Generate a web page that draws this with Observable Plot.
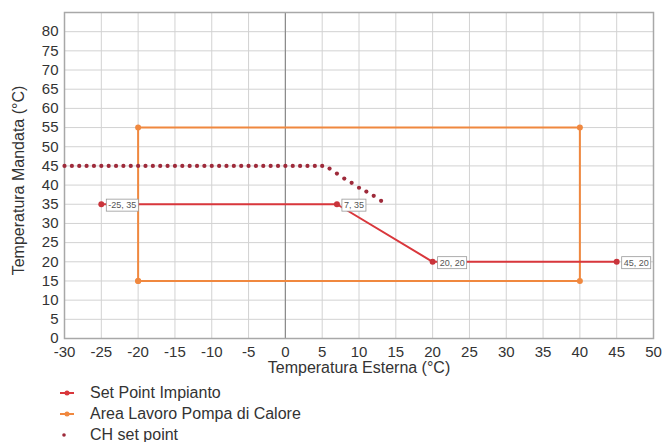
<!DOCTYPE html>
<html><head><meta charset="utf-8">
<script src="https://cdn.jsdelivr.net/npm/d3@7"></script>
<script src="https://cdn.jsdelivr.net/npm/@observablehq/plot@0.6"></script>
<style>
body{margin:0;background:#fff;font-family:"Liberation Sans",Arial,sans-serif;}
#legend{padding-top:2px;}
.row{height:21px;display:flex;align-items:center;font-size:16px;color:#333;}
.row svg{margin-left:59px;margin-right:15px;}
</style>
</head><body>
<div id="chart"></div>
<div id="legend"></div>
<script>
// ---- data ----
const xTicks = [-30,-25,-20,-15,-10,-5,0,5,10,15,20,25,30,35,40,45,50];
const yTicks = [0,5,10,15,20,25,30,35,40,45,50,55,60,65,70,75,80];
const yGrid = [5,10,15,20,25,30,35,40,45,50,55,60,65,70,75,80];

const setX = [-25, 7, 20, 45];
const setY = [35, 35, 20, 20];
const setLabels = ["-25, 35", "7, 35", "20, 20", "45, 20"];

const areaX = [-20, -20, 40, 40, -20];
const areaY = [15, 55, 55, 15, 15];

const chX = [-30,-29,-28,-27,-26,-25,-24,-23,-22,-21,-20,-19,-18,-17,-16,-15,-14,-13,-12,-11,-10,-9,-8,-7,-6,-5,-4,-3,-2,-1,0,1,2,3,4,5,6,7,8,9,10,11,12,13];
const chY = [45,45,45,45,45,45,45,45,45,45,45,45,45,45,45,45,45,45,45,45,45,45,45,45,45,45,45,45,45,45,45,45,45,45,45,45,44.3,43.0,41.7,40.6,39.3,38.3,37.2,35.9];

const seriesNames = ["Set Point Impianto", "Area Lavoro Pompa di Calore", "CH set point"];
const xLabel = "Temperatura Esterna (°C)";
const yLabel = "Temperatura Mandata (°C)";

const colSet = "#d9373c", colArea = "#f0883f", colCH = "#9e2a3a";

const setData = setX.map((x,i)=>({x, y:setY[i], label:setLabels[i]}));
const areaData = areaX.map((x,i)=>({x, y:areaY[i]}));
const chData = chX.map((x,i)=>({x, y:chY[i]}));

const fmt = d => String(d);

const chart = Plot.plot({
  width: 663, height: 380,
  marginTop: 12, marginBottom: 42, marginLeft: 64, marginRight: 10,
  style: {fontFamily: "Liberation Sans, Arial, sans-serif", fontSize: "15px", color: "#333", background: "#fff"},
  x: {domain: [-30, 50]},
  y: {domain: [0, 85]},
  marks: [
    Plot.gridX(xTicks, {stroke: "#d2d2d2", strokeOpacity: 1}),
    Plot.gridY(yGrid, {stroke: "#d2d2d2", strokeOpacity: 1}),
    Plot.ruleX([0], {stroke: "#8a8a8a", strokeWidth: 1.2}),
    Plot.frame({stroke: "#a8a8a8", strokeWidth: 1.5}),
    Plot.axisX({ticks: xTicks, tickSize: 0, tickPadding: 8, tickFormat: fmt, label: null, fill: "#333"}),
    Plot.axisY({ticks: yTicks, tickSize: 0, tickPadding: 6, tickFormat: fmt, label: null, fill: "#333"}),
    Plot.text([xLabel], {frameAnchor: "bottom", dy: 29, lineAnchor: "middle", fontSize: 16, fill: "#333"}),
    Plot.text([yLabel], {frameAnchor: "left", rotate: -90, dx: -46, dy: 5, textAnchor: "middle", lineAnchor: "middle", fontSize: 16, fill: "#333"}),
    Plot.line(areaData, {x: "x", y: "y", stroke: colArea, strokeWidth: 2}),
    Plot.dot(areaData, {x: "x", y: "y", r: 3, fill: colArea}),
    Plot.line(setData, {x: "x", y: "y", stroke: colSet, strokeWidth: 2}),
    Plot.dot(setData, {x: "x", y: "y", r: 3, fill: "#c9343b"}),
    Plot.dot(chData, {x: "x", y: "y", r: 2.1, fill: colCH}),
    Plot.text(setData, {x: "x", y: "y", text: "label", textAnchor: "start", dx: 7, dy: 1, fontSize: 9, fill: "#555"})
  ]
});
document.getElementById("chart").appendChild(chart);

// boxes behind point labels
d3.select(chart).selectAll("text").filter(function(){ return setLabels.includes(this.textContent); }).each(function(){
  const b = this.getBBox();
  const r = document.createElementNS("http://www.w3.org/2000/svg","rect");
  r.setAttribute("x", b.x - 2); r.setAttribute("y", b.y - 1);
  r.setAttribute("width", b.width + 4); r.setAttribute("height", b.height + 2);
  r.setAttribute("fill", "#fff"); r.setAttribute("stroke", "#999"); r.setAttribute("stroke-width", "0.8");
  const t = this.getAttribute("transform"); if (t) r.setAttribute("transform", t);
  this.parentNode.insertBefore(r, this);
});

// legend
const leg = d3.select("#legend");
const cols = [colSet, colArea, colCH];
seriesNames.forEach((name, i) => {
  const row = leg.append("div").attr("class", "row");
  const s = row.append("svg").attr("width", 16).attr("height", 10);
  if (i < 2) {
    s.append("line").attr("x1", 1).attr("x2", 15).attr("y1", 5).attr("y2", 5).attr("stroke", cols[i]).attr("stroke-width", 2);
    s.append("circle").attr("cx", 8).attr("cy", 5).attr("r", 2.5).attr("fill", cols[i]);
  } else {
    s.append("circle").attr("cx", 5).attr("cy", 5).attr("r", 1.8).attr("fill", cols[i]);
  }
  row.append("span").text(name);
});
</script>
</body></html>
